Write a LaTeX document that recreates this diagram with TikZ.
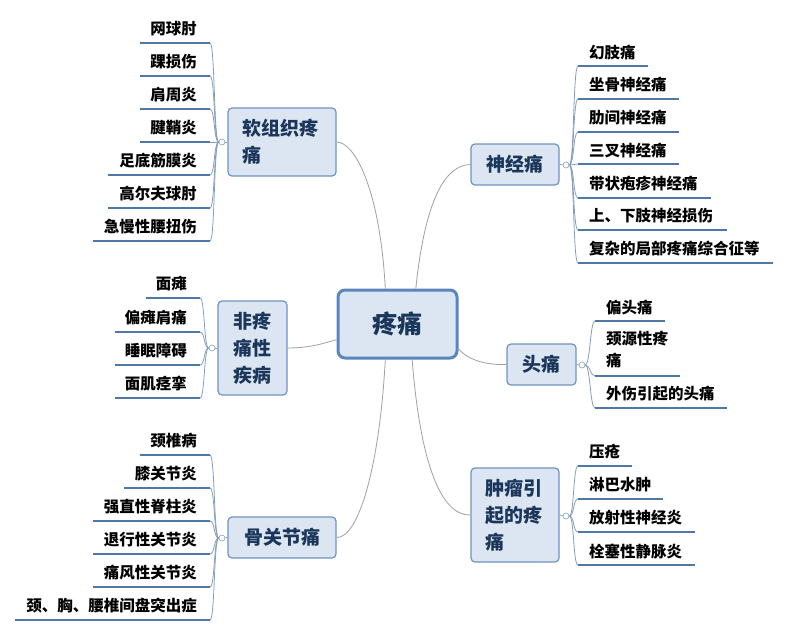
\documentclass[tikz,border=0pt]{standalone}
\usepackage{fontspec}
\setmainfont{Noto Sans CJK SC}
\usetikzlibrary{calc}
\definecolor{boxfill}{HTML}{DCE6F2}
\definecolor{boxdraw}{HTML}{6F93C0}
\definecolor{cdraw}{HTML}{5A86BE}
\definecolor{cattext}{HTML}{1A365A}
\definecolor{ulc}{HTML}{4E78A8}
\definecolor{brc}{HTML}{859DBD}
\definecolor{mainc}{HTML}{A0A0A0}
\tikzset{
  cat/.style={draw=boxdraw, fill=boxfill, line width=1.2pt, rounded corners=4pt, text=cattext,
    font=\bfseries\fontsize{19pt}{27pt}\selectfont, inner sep=0pt},
  leaf/.style={inner sep=0pt, font=\bfseries\fontsize{15.5pt}{22pt}\selectfont, text=black},
  uline/.style={draw=ulc, line width=2.6pt},
  branch/.style={draw=brc, line width=0.8pt},
  mainline/.style={draw=mainc, line width=0.8pt},
  hub/.style={circle, draw=brc, fill=white, line width=0.6pt, minimum size=6pt, inner sep=0pt}
}
\newcommand\LfL[6]{%
  \coordinate (#2a) at (#4,#3);
  \coordinate (#2b) at (#5,#3);
  \node[leaf,anchor=east] (#2) at (#5-13,#3-14) {#6};
  \draw[branch] (#1.west) .. controls ($(#1.west)+(-5,0)$) and ($(#2b)+(5,0)$) .. (#2b);
  \draw[uline] (#2a) -- (#2b);
}
\newcommand\LfR[6]{%
  \coordinate (#2a) at (#4,#3);
  \coordinate (#2b) at (#5,#3);
  \node[leaf,anchor=west] (#2) at (#4+11,#3-14) {#6};
  \draw[branch] (#1.east) .. controls ($(#1.east)+(5,0)$) and ($(#2a)+(-5,0)$) .. (#2a);
  \draw[uline] (#2a) -- (#2b);
}
\begin{document}
\begin{tikzpicture}[x=1pt,y=-1pt]
\useasboundingbox (0,0) rectangle (800,635);

% category boxes
\node[cat, draw=cdraw, line width=3pt, rounded corners=7pt, minimum width=119pt, minimum height=68pt,
  font=\bfseries\fontsize{25pt}{30pt}\selectfont] (center) at (397.5,324) {疼痛};
\node[cat, minimum width=108pt, minimum height=68pt, text width=80pt, align=left] (soft) at (282,142) {软组织疼\\痛};
\node[cat, minimum width=88pt, minimum height=41pt] (nerve) at (515,164.5) {神经痛};
\node[cat, minimum width=69pt, minimum height=94pt, text width=40pt, align=center] (nonpain) at (252.5,348) {非疼\\痛性\\疾病};
\node[cat, minimum width=69pt, minimum height=41pt] (head) at (541.5,364.5) {头痛};
\node[cat, minimum width=108pt, minimum height=41pt] (bone) at (282,537.5) {骨关节痛};
\node[cat, minimum width=88pt, minimum height=94pt, text width=60pt, align=left] (tumor) at (515,515) {肿瘤引\\起的疼\\痛};

% main connectors
\draw[mainline] ($(center.north west)!0.4!(center.north east)$) .. controls (380,190) and (355,142) .. (soft.east);
\draw[mainline] ($(center.north west)!0.65!(center.north east)$) .. controls (425,200) and (445,165) .. (nerve.west);
\draw[mainline] ($(center.north west)!0.72!(center.south west)$) .. controls (325,343) and (310,348) .. (nonpain.east);
\draw[mainline] ($(center.south west)!0.4!(center.south east)$) .. controls (380,460) and (360,538) .. (bone.east);
\draw[mainline] ($(center.north east)!0.85!(center.south east)$) .. controls (470,362) and (490,365) .. (head.west);
\draw[mainline] ($(center.south west)!0.62!(center.south east)$) .. controls (420,460) and (440,516) .. (tumor.west);

% hubs
\node[hub] (hsoft) at (222,142) {};
\node[hub] (hnerve) at (566,165) {};
\node[hub] (hnon) at (212,348) {};
\node[hub] (hbone) at (222,538) {};
\node[hub] (hhead) at (582,365) {};
\node[hub] (htum) at (566,516) {};
\draw[branch] (hsoft) -- (soft.west);
\draw[branch] (hnerve) -- (nerve.east);
\draw[branch] (hnon) -- (nonpain.west);
\draw[branch] (hbone) -- (bone.west);
\draw[branch] (hhead) -- (head.east);
\draw[branch] (htum) -- (tumor.east);

% soft tissue
\LfL{hsoft}{S1}{43}{140}{210}{网球肘}
\LfL{hsoft}{S2}{76}{140}{210}{踝损伤}
\LfL{hsoft}{S3}{109}{140}{210}{肩周炎}
\LfL{hsoft}{S4}{142}{140}{210}{腱鞘炎}
\LfL{hsoft}{S5}{175}{108}{210}{足底筋膜炎}
\LfL{hsoft}{S6}{208}{108}{210}{高尔夫球肘}
\LfL{hsoft}{S7}{241}{93}{210}{急慢性腰扭伤}

% nerve
\LfR{hnerve}{N1}{66}{578}{648}{幻肢痛}
\LfR{hnerve}{N2}{99}{578}{679}{坐骨神经痛}
\LfR{hnerve}{N3}{132}{578}{679}{肋间神经痛}
\LfR{hnerve}{N4}{164}{578}{679}{三叉神经痛}
\LfR{hnerve}{N5}{198}{578}{711}{带状疱疹神经痛}
\LfR{hnerve}{N6}{230}{578}{727}{上、下肢神经损伤}
\LfR{hnerve}{N7}{263}{578}{773}{复杂的局部疼痛综合征等}

% non-pain
\LfL{hnon}{P1}{298}{146}{200}{面瘫}
\LfL{hnon}{P2}{332}{115}{200}{偏瘫肩痛}
\LfL{hnon}{P3}{365}{115}{200}{睡眠障碍}
\LfL{hnon}{P4}{398}{115}{200}{面肌痉挛}

% bone
\LfL{hbone}{B1}{455}{140}{210}{颈椎病}
\LfL{hbone}{B2}{488}{124}{210}{膝关节炎}
\LfL{hbone}{B3}{521}{93}{210}{强直性脊柱炎}
\LfL{hbone}{B4}{554}{93}{210}{退行性关节炎}
\LfL{hbone}{B5}{587}{93}{210}{痛风性关节炎}
\LfL{hbone}{B6}{620}{15}{210}{颈、胸、腰椎间盘突出症}

% headache
\LfR{hhead}{H1}{321}{595}{665}{偏头痛}
\coordinate (H2a) at (595,376);
\coordinate (H2b) at (680,376);
\node[leaf, anchor=west, align=left] (H2) at (606,350) {颈源性疼\\痛};
\draw[branch] (hhead.east) .. controls ($(hhead.east)+(5,0)$) and ($(H2a)+(-5,0)$) .. (H2a);
\draw[uline] (H2a) -- (H2b);
\LfR{hhead}{H3}{408}{595}{727}{外伤引起的头痛}

% tumor
\LfR{htum}{T1}{466}{578}{632}{压疮}
\LfR{htum}{T2}{499}{578}{663}{淋巴水肿}
\LfR{htum}{T3}{532}{578}{695}{放射性神经炎}
\LfR{htum}{T4}{565}{578}{695}{栓塞性静脉炎}
\end{tikzpicture}
\end{document}
